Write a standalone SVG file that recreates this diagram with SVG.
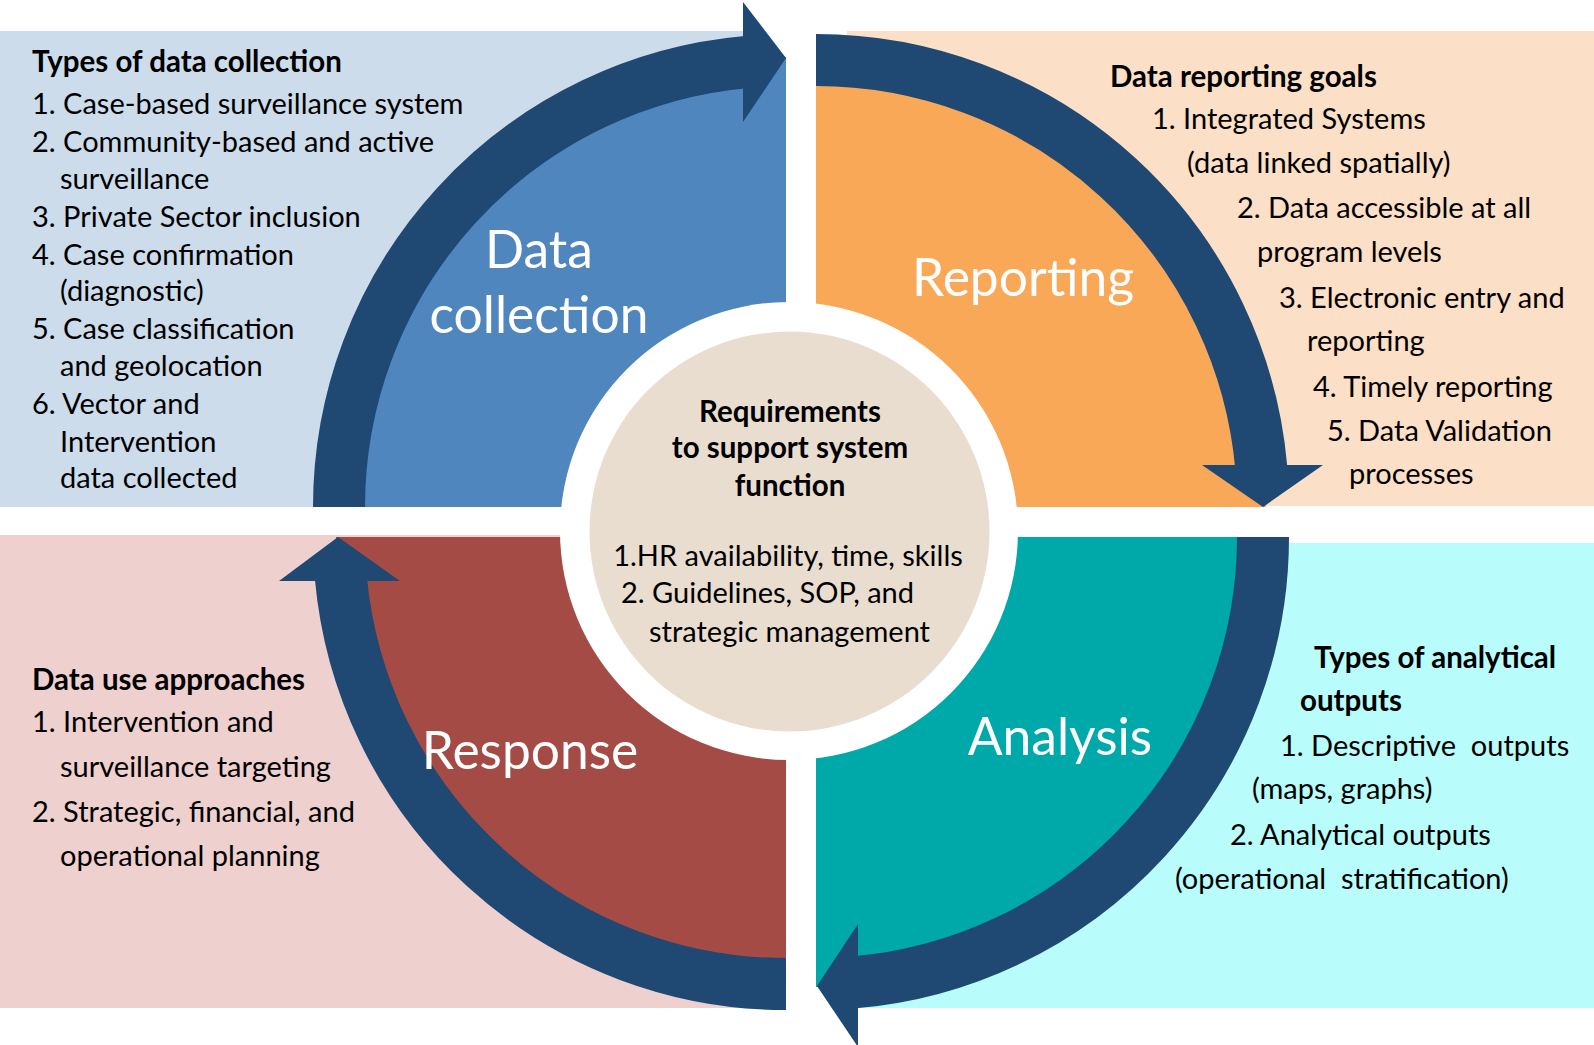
<svg xmlns="http://www.w3.org/2000/svg" width="1594" height="1045" viewBox="0 0 1594 1045">
<style>
.t{font-family:Lato,"Liberation Sans",sans-serif;font-size:29px;fill:#000;white-space:pre}
.b{font-weight:bold;font-size:29.5px}
.big{font-family:Lato,"Liberation Sans",sans-serif;font-size:51.5px;fill:#fff;text-anchor:middle}
.m{text-anchor:middle}
.band{fill:none;stroke:#1F4872;stroke-width:52}
.head{fill:#1F4872}
</style>
<rect width="1594" height="1045" fill="#fff"/>
<g id="panels">
  <g id="panel-data-collection">
    <rect x="0" y="31" width="745" height="476" fill="#CCDCEB"/>
    <text class="t b" x="32" y="72">Types of data collection</text>
    <text class="t" x="32" y="114">1. Case-based surveillance system</text>
    <text class="t" x="32" y="152">2. Community-based and active</text>
    <text class="t" x="60" y="189">surveillance</text>
    <text class="t" x="32" y="227">3. Private Sector inclusion</text>
    <text class="t" x="32" y="265">4. Case confirmation</text>
    <text class="t" x="60" y="301">(diagnostic)</text>
    <text class="t" x="32" y="339">5. Case classification</text>
    <text class="t" x="60" y="376">and geolocation</text>
    <text class="t" x="32" y="414">6. Vector and</text>
    <text class="t" x="60" y="452">Intervention</text>
    <text class="t" x="60" y="488">data collected</text>
  </g>
  <g id="panel-reporting">
    <rect x="847" y="31" width="747" height="475" fill="#FBDFC6"/>
    <text class="t b" x="1110" y="87">Data reporting goals</text>
    <text class="t" x="1152" y="129">1. Integrated Systems</text>
    <text class="t" x="1187" y="173">(data linked spatially)</text>
    <text class="t" x="1237" y="218">2. Data accessible at all</text>
    <text class="t" x="1257" y="262">program levels</text>
    <text class="t" x="1279" y="308">3. Electronic entry and</text>
    <text class="t" x="1307" y="351">reporting</text>
    <text class="t" x="1313" y="397">4. Timely reporting</text>
    <text class="t" x="1327" y="441">5. Data Validation</text>
    <text class="t" x="1349" y="484">processes</text>
  </g>
  <g id="panel-analysis">
    <rect x="859" y="543" width="735" height="465" fill="#B8FCFC"/>
    <text class="t b" x="1314" y="668">Types of analytical</text>
    <text class="t b" x="1300" y="711">outputs</text>
    <text class="t" x="1280" y="756">1. Descriptive  outputs</text>
    <text class="t" x="1252" y="799">(maps, graphs)</text>
    <text class="t" x="1230" y="845">2. Analytical outputs</text>
    <text class="t" x="1175" y="889">(operational  stratification)</text>
  </g>
  <g id="panel-response">
    <rect x="0" y="535" width="786" height="473" fill="#EED0CF"/>
    <text class="t b" x="32" y="690">Data use approaches</text>
    <text class="t" x="32" y="732">1. Intervention and</text>
    <text class="t" x="60" y="777">surveillance targeting</text>
    <text class="t" x="32" y="822">2. Strategic, financial, and</text>
    <text class="t" x="60" y="866">operational planning</text>
  </g>
</g>
<g id="sectors">
  <path id="sector-data-collection" d="M786,507 L336,507 A450,450 0 0 1 786,57 Z" fill="#4F86BE"/>
  <path id="sector-reporting" d="M816,507 L816,57 A450,450 0 0 1 1266,507 Z" fill="#F9A857"/>
  <path id="sector-analysis" d="M816,537 L1266,537 A450,450 0 0 1 816,987 Z" fill="#00A9A9"/>
  <path id="sector-response" d="M786,537 L786,987 A450,450 0 0 1 336,537 Z" fill="#A54B45"/>
  <circle cx="789" cy="531" r="229" fill="#fff"/>
</g>
<g id="connectors">
  <path class="band" d="M339,507 A447,447 0 0 1 747,62"/>
  <polygon class="head" points="743,2 786,58 743,122"/>
  <path class="band" d="M816,60 A447,447 0 0 1 1261.4,469"/>
  <polygon class="head" points="1202,465 1263,507 1323,465"/>
  <path class="band" d="M1263,537 A447,447 0 0 1 854,982.4"/>
  <polygon class="head" points="858,924 817,986 858,1047"/>
  <path class="band" d="M786,984 A447,447 0 0 1 340.8,577"/>
  <polygon class="head" points="279,581 338,537 400,581"/>
</g>
<g id="node-data-collection">
  <text class="big" x="539" y="268">Data</text>
  <text class="big" x="539" y="333">collection</text>
</g>
<g id="node-reporting">
  <text class="big" x="1023" y="296">Reporting</text>
</g>
<g id="node-analysis">
  <text class="big" x="1060" y="755">Analysis</text>
</g>
<g id="node-response">
  <text class="big" x="530" y="769">Response</text>
</g>
<g id="node-requirements">
  <circle cx="789.5" cy="531.5" r="200" fill="#E9DDD0"/>
  <text class="t b m" x="790" y="422">Requirements</text>
  <text class="t b m" x="790" y="458">to support system</text>
  <text class="t b m" x="790" y="496">function</text>
  <text class="t m" x="788" y="566">1.HR availability, time, skills</text>
  <text class="t" x="621" y="603">2. Guidelines, SOP, and</text>
  <text class="t" x="649" y="642">strategic management</text>
</g>
</svg>
